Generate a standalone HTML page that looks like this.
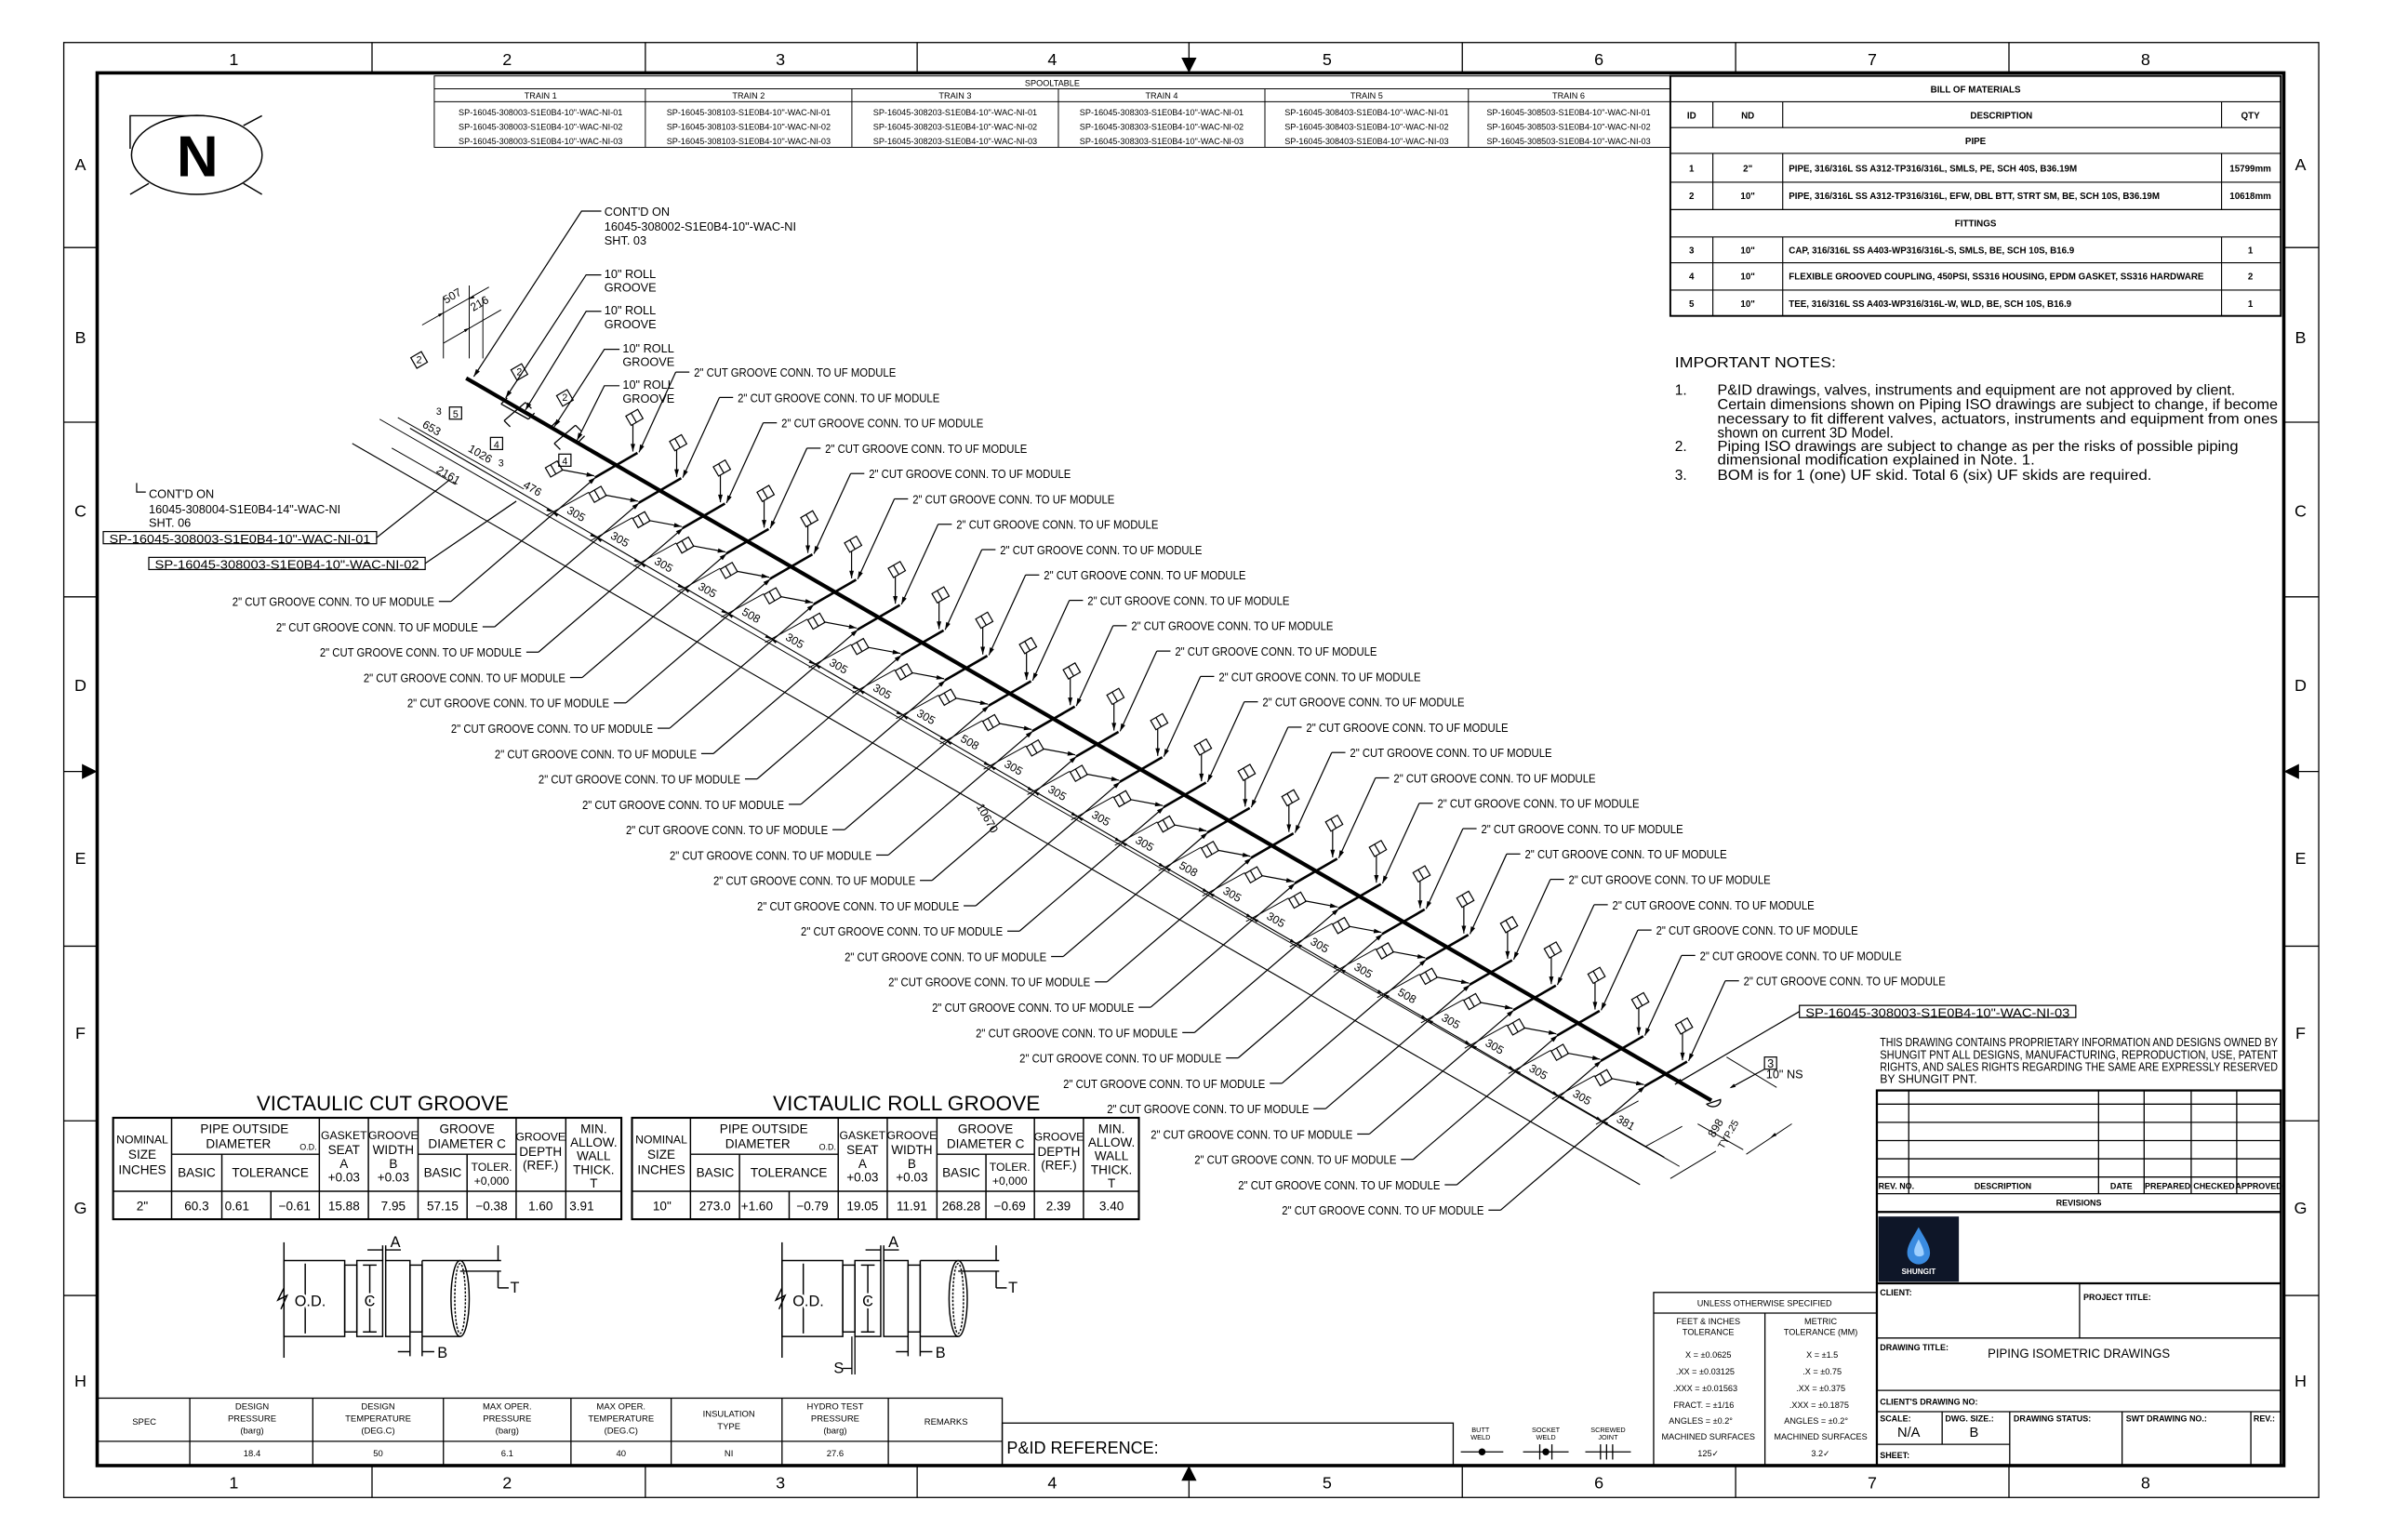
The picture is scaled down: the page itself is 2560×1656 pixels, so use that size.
<!DOCTYPE html>
<html><head><meta charset="utf-8"><style>
html,body{margin:0;padding:0;background:#fff}
svg{display:block}
text{font-family:"Liberation Sans",sans-serif;fill:#000}
.c{text-anchor:middle}
.e{text-anchor:end}
</style></head><body>
<svg xmlns="http://www.w3.org/2000/svg" width="2560" height="1656" viewBox="0 0 1568 1014" preserveAspectRatio="none">
<rect width="1568" height="1014" fill="#fff"/>
<g fill="none" stroke="#000">
<!-- frames -->
<rect x="42" y="28" width="1485" height="958" stroke-width="0.8"/>
<rect x="64" y="48" width="1440" height="917" stroke-width="2.2"/>
<g stroke-width="0.8">
<line x1="245" y1="28" x2="245" y2="48"/><line x1="425" y1="28" x2="425" y2="48"/><line x1="604" y1="28" x2="604" y2="48"/><line x1="963" y1="28" x2="963" y2="48"/><line x1="1143" y1="28" x2="1143" y2="48"/><line x1="1323" y1="28" x2="1323" y2="48"/>
<line x1="245" y1="965" x2="245" y2="986"/><line x1="425" y1="965" x2="425" y2="986"/><line x1="604" y1="965" x2="604" y2="986"/><line x1="963" y1="965" x2="963" y2="986"/><line x1="1143" y1="965" x2="1143" y2="986"/><line x1="1323" y1="965" x2="1323" y2="986"/>
<line x1="42" y1="163" x2="64" y2="163"/><line x1="42" y1="278" x2="64" y2="278"/><line x1="42" y1="393" x2="64" y2="393"/><line x1="42" y1="623" x2="64" y2="623"/><line x1="42" y1="738" x2="64" y2="738"/><line x1="42" y1="853" x2="64" y2="853"/>
<line x1="1504" y1="163" x2="1527" y2="163"/><line x1="1504" y1="278" x2="1527" y2="278"/><line x1="1504" y1="393" x2="1527" y2="393"/><line x1="1504" y1="623" x2="1527" y2="623"/><line x1="1504" y1="738" x2="1527" y2="738"/><line x1="1504" y1="853" x2="1527" y2="853"/>
<line x1="42" y1="508" x2="64" y2="508"/><line x1="1504" y1="508" x2="1527" y2="508"/>
<line x1="783" y1="28" x2="783" y2="38"/><line x1="783" y1="975" x2="783" y2="986"/>
</g>
</g>
<polygon points="778,38 788,38 783,48" fill="#000"/>
<polygon points="778,975 788,975 783,965" fill="#000"/>
<polygon points="54,503 54,513 64,508" fill="#000"/>
<polygon points="1514,503 1514,513 1504,508" fill="#000"/>
<g font-size="11" class="c">
<text x="154" y="43" class="c">1</text><text x="334" y="43" class="c">2</text><text x="514" y="43" class="c">3</text><text x="693" y="43" class="c">4</text><text x="874" y="43" class="c">5</text><text x="1053" y="43" class="c">6</text><text x="1233" y="43" class="c">7</text><text x="1413" y="43" class="c">8</text>
<text x="154" y="980" class="c">1</text><text x="334" y="980" class="c">2</text><text x="514" y="980" class="c">3</text><text x="693" y="980" class="c">4</text><text x="874" y="980" class="c">5</text><text x="1053" y="980" class="c">6</text><text x="1233" y="980" class="c">7</text><text x="1413" y="980" class="c">8</text>
<text x="53" y="112" class="c">A</text><text x="53" y="226" class="c">B</text><text x="53" y="340" class="c">C</text><text x="53" y="455" class="c">D</text><text x="53" y="569" class="c">E</text><text x="53" y="684" class="c">F</text><text x="53" y="799" class="c">G</text><text x="53" y="913" class="c">H</text>
<text x="1515" y="112" class="c">A</text><text x="1515" y="226" class="c">B</text><text x="1515" y="340" class="c">C</text><text x="1515" y="455" class="c">D</text><text x="1515" y="569" class="c">E</text><text x="1515" y="684" class="c">F</text><text x="1515" y="799" class="c">G</text><text x="1515" y="913" class="c">H</text>
</g>

<!-- North symbol -->
<g fill="none" stroke="#000" stroke-width="0.9">
<ellipse cx="129.6" cy="102" rx="43" ry="26"/>
<polyline points="134.7,76.2 85.7,76.2 85.7,98"/>
<line x1="160.3" y1="82.7" x2="172.5" y2="76.2"/><line x1="85.7" y1="128" x2="98" y2="120.8"/><line x1="160.3" y1="120.8" x2="172.5" y2="128"/>
</g>
<text x="130" y="116" class="c" font-size="38" font-weight="bold">N</text>

<!-- SPOOL TABLE -->
<g fill="none" stroke="#000" stroke-width="0.6">
<rect x="286" y="50" width="814" height="47"/>
<line x1="286" y1="58.5" x2="1100" y2="58.5"/><line x1="286" y1="67" x2="1100" y2="67"/>
<line x1="425" y1="58.5" x2="425" y2="97"/><line x1="561" y1="58.5" x2="561" y2="97"/><line x1="697" y1="58.5" x2="697" y2="97"/><line x1="833" y1="58.5" x2="833" y2="97"/><line x1="967" y1="58.5" x2="967" y2="97"/>
</g>
<g font-size="5.6">
<text x="693" y="56.5" class="c">SPOOLTABLE</text>
<text x="356" y="65" class="c">TRAIN 1</text><text x="493" y="65" class="c">TRAIN 2</text><text x="629" y="65" class="c">TRAIN 3</text><text x="765" y="65" class="c">TRAIN 4</text><text x="900" y="65" class="c">TRAIN 5</text><text x="1033" y="65" class="c">TRAIN 6</text>
<text x="356" y="76" class="c">SP-16045-308003-S1E0B4-10"-WAC-NI-01</text><text x="356" y="85.5" class="c">SP-16045-308003-S1E0B4-10"-WAC-NI-02</text><text x="356" y="95" class="c">SP-16045-308003-S1E0B4-10"-WAC-NI-03</text>
<text x="493" y="76" class="c">SP-16045-308103-S1E0B4-10"-WAC-NI-01</text><text x="493" y="85.5" class="c">SP-16045-308103-S1E0B4-10"-WAC-NI-02</text><text x="493" y="95" class="c">SP-16045-308103-S1E0B4-10"-WAC-NI-03</text>
<text x="629" y="76" class="c">SP-16045-308203-S1E0B4-10"-WAC-NI-01</text><text x="629" y="85.5" class="c">SP-16045-308203-S1E0B4-10"-WAC-NI-02</text><text x="629" y="95" class="c">SP-16045-308203-S1E0B4-10"-WAC-NI-03</text>
<text x="765" y="76" class="c">SP-16045-308303-S1E0B4-10"-WAC-NI-01</text><text x="765" y="85.5" class="c">SP-16045-308303-S1E0B4-10"-WAC-NI-02</text><text x="765" y="95" class="c">SP-16045-308303-S1E0B4-10"-WAC-NI-03</text>
<text x="900" y="76" class="c">SP-16045-308403-S1E0B4-10"-WAC-NI-01</text><text x="900" y="85.5" class="c">SP-16045-308403-S1E0B4-10"-WAC-NI-02</text><text x="900" y="95" class="c">SP-16045-308403-S1E0B4-10"-WAC-NI-03</text>
<text x="1033" y="76" class="c">SP-16045-308503-S1E0B4-10"-WAC-NI-01</text><text x="1033" y="85.5" class="c">SP-16045-308503-S1E0B4-10"-WAC-NI-02</text><text x="1033" y="95" class="c">SP-16045-308503-S1E0B4-10"-WAC-NI-03</text>
</g>

<!-- BOM -->
<g fill="none" stroke="#000" stroke-width="0.7">
<rect x="1100" y="50" width="402" height="158" stroke-width="1.2"/>
<line x1="1100" y1="67" x2="1502" y2="67"/><line x1="1100" y1="84" x2="1502" y2="84"/><line x1="1100" y1="101" x2="1502" y2="101"/><line x1="1100" y1="120" x2="1502" y2="120"/><line x1="1100" y1="138" x2="1502" y2="138"/><line x1="1100" y1="156" x2="1502" y2="156"/><line x1="1100" y1="173" x2="1502" y2="173"/><line x1="1100" y1="191" x2="1502" y2="191"/>
<line x1="1128" y1="67" x2="1128" y2="84"/><line x1="1174" y1="67" x2="1174" y2="84"/><line x1="1463" y1="67" x2="1463" y2="84"/>
<line x1="1128" y1="101" x2="1128" y2="138"/><line x1="1174" y1="101" x2="1174" y2="138"/><line x1="1463" y1="101" x2="1463" y2="138"/>
<line x1="1128" y1="156" x2="1128" y2="208"/><line x1="1174" y1="156" x2="1174" y2="208"/><line x1="1463" y1="156" x2="1463" y2="208"/>
</g>
<g font-size="6" font-weight="bold">
<text x="1301" y="61" class="c">BILL OF MATERIALS</text>
<text x="1114" y="78" class="c">ID</text><text x="1151" y="78" class="c">ND</text><text x="1318" y="78" class="c">DESCRIPTION</text><text x="1482" y="78" class="c">QTY</text>
<text x="1301" y="95" class="c">PIPE</text>
<text x="1114" y="113" class="c">1</text><text x="1151" y="113" class="c">2"</text><text x="1178" y="113">PIPE, 316/316L SS A312-TP316/316L, SMLS, PE, SCH 40S, B36.19M</text><text x="1482" y="113" class="c">15799mm</text>
<text x="1114" y="131" class="c">2</text><text x="1151" y="131" class="c">10"</text><text x="1178" y="131">PIPE, 316/316L SS A312-TP316/316L, EFW, DBL BTT, STRT SM, BE, SCH 10S, B36.19M</text><text x="1482" y="131" class="c">10618mm</text>
<text x="1301" y="149" class="c">FITTINGS</text>
<text x="1114" y="167" class="c">3</text><text x="1151" y="167" class="c">10"</text><text x="1178" y="167">CAP, 316/316L SS A403-WP316/316L-S, SMLS, BE, SCH 10S, B16.9</text><text x="1482" y="167" class="c">1</text>
<text x="1114" y="184" class="c">4</text><text x="1151" y="184" class="c">10"</text><text x="1178" y="184">FLEXIBLE GROOVED COUPLING, 450PSI, SS316 HOUSING, EPDM GASKET, SS316 HARDWARE</text><text x="1482" y="184" class="c">2</text>
<text x="1114" y="202" class="c">5</text><text x="1151" y="202" class="c">10"</text><text x="1178" y="202">TEE, 316/316L SS A403-WP316/316L-W, WLD, BE, SCH 10S, B16.9</text><text x="1482" y="202" class="c">1</text>
</g>

<!-- notes -->
<g font-size="9.5">
<text x="1103" y="242" textLength="106" lengthAdjust="spacingAndGlyphs">IMPORTANT NOTES:</text>
<text x="1103" y="260">1.</text><text x="1131" y="260" textLength="341" lengthAdjust="spacingAndGlyphs">P&amp;ID drawings, valves, instruments and equipment are not approved by client.</text>
<text x="1131" y="269.5" textLength="369" lengthAdjust="spacingAndGlyphs">Certain dimensions shown on Piping ISO drawings are subject to change, if become</text>
<text x="1131" y="279" textLength="369" lengthAdjust="spacingAndGlyphs">necessary to fit different valves, actuators, instruments and equipment from ones</text>
<text x="1131" y="288" textLength="116" lengthAdjust="spacingAndGlyphs">shown on current 3D Model.</text>
<text x="1103" y="297">2.</text><text x="1131" y="297" textLength="343" lengthAdjust="spacingAndGlyphs">Piping ISO drawings are subject to change as per the risks of possible piping</text>
<text x="1131" y="306" textLength="209" lengthAdjust="spacingAndGlyphs">dimensional modification explained in Note. 1.</text>
<text x="1103" y="316">3.</text><text x="1131" y="316" textLength="286" lengthAdjust="spacingAndGlyphs">BOM is for 1 (one) UF skid. Total 6 (six) UF skids are required.</text>
</g>
<g font-size="8">
<text x="1238" y="689" textLength="262" lengthAdjust="spacingAndGlyphs">THIS DRAWING CONTAINS PROPRIETARY INFORMATION AND DESIGNS OWNED BY</text>
<text x="1238" y="697" textLength="262" lengthAdjust="spacingAndGlyphs">SHUNGIT PNT ALL DESIGNS, MANUFACTURING, REPRODUCTION, USE, PATENT</text>
<text x="1238" y="705" textLength="262" lengthAdjust="spacingAndGlyphs">RIGHTS, AND SALES RIGHTS REGARDING THE SAME ARE EXPRESSLY RESERVED</text>
<text x="1238" y="713" textLength="64" lengthAdjust="spacingAndGlyphs">BY SHUNGIT PNT.</text>
</g>

<!-- Revisions / title block -->
<g fill="none" stroke="#000" stroke-width="0.8">
<rect x="1236" y="718" width="266" height="247" stroke-width="1.4"/>
<line x1="1236" y1="727" x2="1502" y2="727"/><line x1="1236" y1="739" x2="1502" y2="739"/><line x1="1236" y1="751" x2="1502" y2="751"/><line x1="1236" y1="763" x2="1502" y2="763"/><line x1="1236" y1="775" x2="1502" y2="775"/><line x1="1236" y1="786" x2="1502" y2="786"/><line x1="1236" y1="798" x2="1502" y2="798" stroke-width="1.4"/>
<line x1="1257" y1="718" x2="1257" y2="786"/><line x1="1382" y1="718" x2="1382" y2="786"/><line x1="1412" y1="718" x2="1412" y2="786"/><line x1="1443" y1="718" x2="1443" y2="786"/><line x1="1473" y1="718" x2="1473" y2="786"/>
<line x1="1236" y1="845" x2="1502" y2="845" stroke-width="1.4"/>
<line x1="1369.5" y1="845" x2="1369.5" y2="881"/>
<line x1="1236" y1="881" x2="1502" y2="881"/><line x1="1236" y1="915.5" x2="1502" y2="915.5"/><line x1="1236" y1="929.5" x2="1502" y2="929.5"/>
<line x1="1236" y1="951" x2="1323.5" y2="951"/>
<line x1="1279" y1="929.5" x2="1279" y2="951"/><line x1="1323.5" y1="929.5" x2="1323.5" y2="965"/><line x1="1397.5" y1="929.5" x2="1397.5" y2="965"/><line x1="1482.3" y1="929.5" x2="1482.3" y2="965"/>
</g>
<g font-size="5.5" font-weight="bold">
<text x="1237" y="783">REV. NO.</text><text x="1319" y="783" class="c">DESCRIPTION</text><text x="1397" y="783" class="c">DATE</text><text x="1427.5" y="783" class="c">PREPARED</text><text x="1458" y="783" class="c">CHECKED</text><text x="1487.5" y="783" class="c">APPROVED</text>
<text x="1369" y="794" class="c">REVISIONS</text>
<text x="1238" y="853">CLIENT:</text><text x="1372" y="856">PROJECT TITLE:</text>
<text x="1238" y="889">DRAWING TITLE:</text>
<text x="1238" y="925">CLIENT'S DRAWING NO:</text>
<text x="1238" y="936">SCALE:</text><text x="1281" y="936">DWG. SIZE.:</text><text x="1326" y="936">DRAWING STATUS:</text><text x="1400" y="936">SWT DRAWING NO.:</text><text x="1484" y="936">REV.:</text>
<text x="1238" y="960">SHEET:</text>
</g>
<text x="1369" y="894" class="c" font-size="8.5" textLength="120" lengthAdjust="spacingAndGlyphs">PIPING ISOMETRIC DRAWINGS</text>
<text x="1257" y="946" class="c" font-size="9">N/A</text><text x="1300" y="946" class="c" font-size="9">B</text>
<rect x="1237" y="801" width="53" height="43" fill="#0e1628"/>
<path d="M1263.5,808 C1259,816 1256,820 1256,825 A7.5,7.5 0 0 0 1271,825 C1271,820 1268,816 1263.5,808 Z" fill="#3a8be0"/>
<path d="M1263.5,816 C1261,821 1260,823 1261,826 A4,4 0 0 0 1267,826 C1267,823 1266,821 1263.5,816 Z" fill="#9fd0ff"/>
<text x="1263.5" y="839" class="c" font-size="5" font-weight="bold" fill="#fff" style="fill:#fff">SHUNGIT</text>

<!-- tolerance box -->
<g fill="none" stroke="#000" stroke-width="0.8">
<rect x="1089" y="851" width="147" height="114"/>
<line x1="1089" y1="864.6" x2="1236" y2="864.6"/><line x1="1162.3" y1="864.6" x2="1162.3" y2="965"/>
</g>
<g font-size="5.6">
<text x="1162" y="860" class="c">UNLESS OTHERWISE SPECIFIED</text>
<text x="1125" y="872" class="c">FEET &amp; INCHES</text><text x="1125" y="879" class="c">TOLERANCE</text>
<text x="1199" y="872" class="c">METRIC</text><text x="1199" y="879" class="c">TOLERANCE (MM)</text>
<text x="1125" y="894" class="c">X = ±0.0625</text><text x="1123" y="905" class="c">.XX = ±0.03125</text><text x="1123" y="916" class="c">.XXX = ±0.01563</text><text x="1122" y="927" class="c">FRACT. = ±1/16</text><text x="1120" y="937.5" class="c">ANGLES = ±0.2°</text><text x="1125" y="948" class="c">MACHINED SURFACES</text><text x="1125" y="959" class="c">125✓</text>
<text x="1200" y="894" class="c">X = ±1.5</text><text x="1200" y="905" class="c">.X = ±0.75</text><text x="1199" y="916" class="c">.XX = ±0.375</text><text x="1198" y="927" class="c">.XXX = ±0.1875</text><text x="1196" y="937.5" class="c">ANGLES = ±0.2°</text><text x="1199" y="948" class="c">MACHINED SURFACES</text><text x="1199" y="959" class="c">3.2✓</text>
</g>

<!-- weld symbols + P&ID -->
<g fill="none" stroke="#000" stroke-width="0.8">
<rect x="660" y="937" width="297" height="28"/>
<line x1="962" y1="956" x2="990" y2="956"/><line x1="1003" y1="956" x2="1033" y2="956"/><line x1="1044" y1="956" x2="1074" y2="956"/>
<line x1="1014" y1="951" x2="1014" y2="961"/><line x1="1022" y1="951" x2="1022" y2="961"/>
<line x1="1054" y1="951" x2="1054" y2="961"/><line x1="1058" y1="951" x2="1058" y2="961"/><line x1="1062" y1="951" x2="1062" y2="961"/>
</g>
<circle cx="976" cy="956" r="2.3" fill="#000"/><circle cx="1018" cy="956" r="2.3" fill="#000"/>
<g font-size="4.5">
<text x="975" y="943" class="c">BUTT</text><text x="975" y="948" class="c">WELD</text>
<text x="1018" y="943" class="c">SOCKET</text><text x="1018" y="948" class="c">WELD</text>
<text x="1059" y="943" class="c">SCREWED</text><text x="1059" y="948" class="c">JOINT</text>
</g>
<text x="663" y="957" font-size="11.5" textLength="100" lengthAdjust="spacingAndGlyphs">P&amp;ID REFERENCE:</text>

<!-- spec table -->
<g fill="none" stroke="#000" stroke-width="0.8">
<rect x="64" y="920.6" width="596" height="44.4"/>
<line x1="64" y1="949" x2="660" y2="949"/>
<line x1="125" y1="920.6" x2="125" y2="965"/><line x1="206" y1="920.6" x2="206" y2="965"/><line x1="292" y1="920.6" x2="292" y2="965"/><line x1="376" y1="920.6" x2="376" y2="965"/><line x1="442" y1="920.6" x2="442" y2="965"/><line x1="515" y1="920.6" x2="515" y2="965"/><line x1="585" y1="920.6" x2="585" y2="965"/>
</g>
<g font-size="5.8">
<text x="95" y="938" class="c">SPEC</text>
<text x="166" y="928" class="c">DESIGN</text><text x="166" y="936" class="c">PRESSURE</text><text x="166" y="944" class="c">(barg)</text>
<text x="249" y="928" class="c">DESIGN</text><text x="249" y="936" class="c">TEMPERATURE</text><text x="249" y="944" class="c">(DEG.C)</text>
<text x="334" y="928" class="c">MAX OPER.</text><text x="334" y="936" class="c">PRESSURE</text><text x="334" y="944" class="c">(barg)</text>
<text x="409" y="928" class="c">MAX OPER.</text><text x="409" y="936" class="c">TEMPERATURE</text><text x="409" y="944" class="c">(DEG.C)</text>
<text x="480" y="933" class="c">INSULATION</text><text x="480" y="941" class="c">TYPE</text>
<text x="550" y="928" class="c">HYDRO TEST</text><text x="550" y="936" class="c">PRESSURE</text><text x="550" y="944" class="c">(barg)</text>
<text x="623" y="938" class="c">REMARKS</text>
<text x="166" y="959" class="c">18.4</text><text x="249" y="959" class="c">50</text><text x="334" y="959" class="c">6.1</text><text x="409" y="959" class="c">40</text><text x="480" y="959" class="c">NI</text><text x="550" y="959" class="c">27.6</text>
</g>

<!-- Victaulic tables -->
<text x="252" y="731" class="c" font-size="13.5" textLength="166" lengthAdjust="spacingAndGlyphs">VICTAULIC CUT GROOVE</text>
<text x="597" y="731" class="c" font-size="13.5" textLength="176" lengthAdjust="spacingAndGlyphs">VICTAULIC ROLL GROOVE</text>
<g fill="none" stroke="#000" stroke-width="0.9">
<rect x="74.5" y="736" width="334.7" height="66.8" stroke-width="1.3"/>
<line x1="74.5" y1="784.4" x2="409.2" y2="784.4"/>
<line x1="113" y1="760" x2="210.3" y2="760"/><line x1="275.3" y1="760" x2="339.9" y2="760"/>
<line x1="113" y1="736" x2="113" y2="802.8"/><line x1="146.1" y1="760" x2="146.1" y2="802.8"/><line x1="178.4" y1="784.4" x2="178.4" y2="802.8"/><line x1="210.3" y1="736" x2="210.3" y2="802.8"/><line x1="242.6" y1="736" x2="242.6" y2="802.8"/><line x1="275.3" y1="736" x2="275.3" y2="802.8"/><line x1="307.6" y1="760" x2="307.6" y2="802.8"/><line x1="339.9" y1="736" x2="339.9" y2="802.8"/><line x1="372.6" y1="736" x2="372.6" y2="802.8"/>
<rect x="416.2" y="736" width="333.8" height="66.8" stroke-width="1.3"/>
<line x1="416.2" y1="784.4" x2="750" y2="784.4"/>
<line x1="454.7" y1="760" x2="552" y2="760"/><line x1="617" y1="760" x2="681.2" y2="760"/>
<line x1="454.7" y1="736" x2="454.7" y2="802.8"/><line x1="487" y1="760" x2="487" y2="802.8"/><line x1="519.7" y1="784.4" x2="519.7" y2="802.8"/><line x1="552" y1="736" x2="552" y2="802.8"/><line x1="584.3" y1="736" x2="584.3" y2="802.8"/><line x1="617" y1="736" x2="617" y2="802.8"/><line x1="649.3" y1="760" x2="649.3" y2="802.8"/><line x1="681.2" y1="736" x2="681.2" y2="802.8"/><line x1="713.5" y1="736" x2="713.5" y2="802.8"/>
</g>
<g font-size="8.3">
<text x="93.7" y="753" class="c" font-size="7.5">NOMINAL</text><text x="93.7" y="763" class="c">SIZE</text><text x="93.7" y="773" class="c">INCHES</text>
<text x="161" y="746" class="c">PIPE OUTSIDE</text><text x="157" y="756" class="c">DIAMETER</text><text x="203" y="757" class="c" font-size="5.5">O.D.</text>
<text x="129.5" y="775" class="c">BASIC</text><text x="178" y="775" class="c">TOLERANCE</text>
<text x="226.5" y="750" class="c" font-size="7.5">GASKET</text><text x="226.5" y="760" class="c">SEAT</text><text x="226.5" y="769" class="c">A</text><text x="226.5" y="778" class="c">+0.03</text>
<text x="259" y="750" class="c" font-size="7.5">GROOVE</text><text x="259" y="760" class="c">WIDTH</text><text x="259" y="769" class="c">B</text><text x="259" y="778" class="c">+0.03</text>
<text x="307.6" y="746" class="c">GROOVE</text><text x="307.6" y="756" class="c">DIAMETER C</text>
<text x="291.5" y="775" class="c">BASIC</text><text x="323.7" y="771" class="c" font-size="7.5">TOLER.</text><text x="323.7" y="780" class="c" font-size="7.5">+0,000</text>
<text x="356" y="751" class="c" font-size="7.5">GROOVE</text><text x="356" y="761" class="c">DEPTH</text><text x="356" y="770" class="c">(REF.)</text>
<text x="391" y="746" class="c">MIN.</text><text x="391" y="755" class="c">ALLOW.</text><text x="391" y="764" class="c">WALL</text><text x="391" y="773" class="c">THICK.</text><text x="391" y="782" class="c">T</text>
<text x="93.7" y="797" class="c">2"</text><text x="129.5" y="797" class="c">60.3</text><text x="148" y="797">0.61</text><text x="194" y="797" class="c">−0.61</text><text x="226.5" y="797" class="c">15.88</text><text x="259" y="797" class="c">7.95</text><text x="291.5" y="797" class="c">57.15</text><text x="323.7" y="797" class="c">−0.38</text><text x="356" y="797" class="c">1.60</text><text x="375" y="797">3.91</text>

<text x="435.5" y="753" class="c" font-size="7.5">NOMINAL</text><text x="435.5" y="763" class="c">SIZE</text><text x="435.5" y="773" class="c">INCHES</text>
<text x="503" y="746" class="c">PIPE OUTSIDE</text><text x="499" y="756" class="c">DIAMETER</text><text x="545" y="757" class="c" font-size="5.5">O.D.</text>
<text x="471" y="775" class="c">BASIC</text><text x="519.5" y="775" class="c">TOLERANCE</text>
<text x="568" y="750" class="c" font-size="7.5">GASKET</text><text x="568" y="760" class="c">SEAT</text><text x="568" y="769" class="c">A</text><text x="568" y="778" class="c">+0.03</text>
<text x="600.5" y="750" class="c" font-size="7.5">GROOVE</text><text x="600.5" y="760" class="c">WIDTH</text><text x="600.5" y="769" class="c">B</text><text x="600.5" y="778" class="c">+0.03</text>
<text x="649" y="746" class="c">GROOVE</text><text x="649" y="756" class="c">DIAMETER C</text>
<text x="633" y="775" class="c">BASIC</text><text x="665" y="771" class="c" font-size="7.5">TOLER.</text><text x="665" y="780" class="c" font-size="7.5">+0,000</text>
<text x="697.3" y="751" class="c" font-size="7.5">GROOVE</text><text x="697.3" y="761" class="c">DEPTH</text><text x="697.3" y="770" class="c">(REF.)</text>
<text x="732" y="746" class="c">MIN.</text><text x="732" y="755" class="c">ALLOW.</text><text x="732" y="764" class="c">WALL</text><text x="732" y="773" class="c">THICK.</text><text x="732" y="782" class="c">T</text>
<text x="436" y="797" class="c">10"</text><text x="470.8" y="797" class="c">273.0</text><text x="488" y="797">+1.60</text><text x="535" y="797" class="c">−0.79</text><text x="568" y="797" class="c">19.05</text><text x="600.5" y="797" class="c">11.91</text><text x="633" y="797" class="c">268.28</text><text x="665" y="797" class="c">−0.69</text><text x="697" y="797" class="c">2.39</text><text x="732" y="797" class="c">3.40</text>
</g>

<!-- groove sketches -->
<g id="gcut" fill="none" stroke="#000" stroke-width="0.9">
<line x1="187" y1="818" x2="187" y2="894"/>
<polyline points="187,848 183,856 189,853 185,862" fill="none"/>
<rect x="187" y="830" width="40" height="50"/>
<rect x="227" y="833" width="8" height="44"/>
<rect x="235" y="830" width="17" height="50"/>
<rect x="254" y="830" width="16" height="50"/>
<rect x="270" y="833" width="8" height="44"/>
<path d="M278,830 H303 M278,880 H303 M278,830 V880"/>
<ellipse cx="303" cy="855" rx="6" ry="25"/>
<ellipse cx="303" cy="855" rx="3.5" ry="23" stroke-dasharray="1.5 1"/>
<line x1="303" y1="830" x2="330" y2="830"/><line x1="303" y1="837" x2="330" y2="837"/>
<line x1="328" y1="820" x2="328" y2="830"/><line x1="328" y1="837" x2="328" y2="848"/><line x1="328" y1="848" x2="335" y2="848"/>
<line x1="201" y1="832" x2="201" y2="878"/>
<line x1="243.5" y1="833" x2="243.5" y2="877"/><line x1="239" y1="833" x2="248" y2="833"/><line x1="239" y1="877" x2="248" y2="877"/>
<line x1="252" y1="820" x2="252" y2="830"/><line x1="254" y1="820" x2="254" y2="830"/>
<line x1="242" y1="823" x2="252" y2="823"/><line x1="254" y1="823" x2="264" y2="823"/>
<line x1="270" y1="880" x2="270" y2="893"/><line x1="278" y1="880" x2="278" y2="893"/>
<line x1="262" y1="890" x2="270" y2="890"/><line x1="278" y1="890" x2="286" y2="890"/>
</g>
<g font-size="10">
<text x="194" y="860" fill="#fff" style="fill:#000;paint-order:stroke;stroke:#fff;stroke-width:3px">O.D.</text>
<text x="243.5" y="860" class="c" style="paint-order:stroke;stroke:#fff;stroke-width:3px">C</text>
<text x="257" y="821">A</text><text x="288" y="894">B</text><text x="336" y="851">T</text>
</g>
<use href="#gcut" x="328" y="0"/>
<g font-size="10">
<text x="522" y="860" style="paint-order:stroke;stroke:#fff;stroke-width:3px">O.D.</text>
<text x="571.5" y="860" class="c" style="paint-order:stroke;stroke:#fff;stroke-width:3px">C</text>
<text x="585" y="821">A</text><text x="616" y="894">B</text><text x="664" y="851">T</text>
<text x="549" y="904">S</text>
</g>
<g fill="none" stroke="#000" stroke-width="0.8"><line x1="561" y1="880" x2="561" y2="905"/><line x1="563" y1="880" x2="563" y2="905"/><line x1="555" y1="901" x2="561" y2="901"/></g>

<!-- ISO drawing geometry (lines only) -->
<g id="geo" fill="none" stroke="#000" stroke-width="0.75"></g>

<!-- upper callouts -->
<g font-size="7.8">
<text x="398" y="142">CONT'D ON</text><text x="398" y="152">16045-308002-S1E0B4-10"-WAC-NI</text><text x="398" y="161">SHT. 03</text>
<text x="398" y="183">10" ROLL</text><text x="398" y="192">GROOVE</text>
<text x="398" y="207">10" ROLL</text><text x="398" y="216">GROOVE</text>
<text x="410" y="232">10" ROLL</text><text x="410" y="241">GROOVE</text>
<text x="410" y="256">10" ROLL</text><text x="410" y="265">GROOVE</text>
<text x="98" y="328">CONT'D ON</text><text x="98" y="338">16045-308004-S1E0B4-14"-WAC-NI</text><text x="98" y="347">SHT. 06</text>
<text x="72" y="357.5" textLength="172" lengthAdjust="spacingAndGlyphs">SP-16045-308003-S1E0B4-10"-WAC-NI-01</text>
<text x="102" y="374.5" textLength="174" lengthAdjust="spacingAndGlyphs">SP-16045-308003-S1E0B4-10"-WAC-NI-02</text>
<text x="1189" y="669.5" textLength="174" lengthAdjust="spacingAndGlyphs">SP-16045-308003-S1E0B4-10"-WAC-NI-03</text>
<text x="1163" y="710">10" NS</text>
<text x="1166" y="703" class="c">3</text>
</g>
<g font-size="7.5" class="c">
<text transform="translate(299,197) rotate(-30)" class="c">507</text>
<text transform="translate(317,202) rotate(-30)" class="c">216</text>
<text transform="translate(283,284) rotate(30)" class="c">653</text>
<text transform="translate(315,301) rotate(30)" class="c">1026</text>
<text transform="translate(294,315) rotate(30)" class="c">2161</text>
<text transform="translate(349.4,323.9) rotate(30)" class="c">476</text>
<text transform="translate(648,540) rotate(60)" class="c">10670</text>
<text transform="translate(1132,744) rotate(-60)" class="c">898</text>
<text transform="translate(1140,748) rotate(-60)" class="c" font-size="6.5">TYP.25</text>
<text transform="translate(378.2,340.6) rotate(30)" class="c">305</text>
<text transform="translate(407.0,357.3) rotate(30)" class="c">305</text>
<text transform="translate(435.8,374.0) rotate(30)" class="c">305</text>
<text transform="translate(464.6,390.7) rotate(30)" class="c">305</text>
<text transform="translate(493.4,407.4) rotate(30)" class="c">508</text>
<text transform="translate(522.2,424.1) rotate(30)" class="c">305</text>
<text transform="translate(551.0,440.8) rotate(30)" class="c">305</text>
<text transform="translate(579.8,457.5) rotate(30)" class="c">305</text>
<text transform="translate(608.6,474.2) rotate(30)" class="c">305</text>
<text transform="translate(637.4,490.9) rotate(30)" class="c">508</text>
<text transform="translate(666.2,507.6) rotate(30)" class="c">305</text>
<text transform="translate(695.0,524.3) rotate(30)" class="c">305</text>
<text transform="translate(723.8,541.0) rotate(30)" class="c">305</text>
<text transform="translate(752.6,557.7) rotate(30)" class="c">305</text>
<text transform="translate(781.4,574.4) rotate(30)" class="c">508</text>
<text transform="translate(810.2,591.1) rotate(30)" class="c">305</text>
<text transform="translate(839.0,607.8) rotate(30)" class="c">305</text>
<text transform="translate(867.8,624.5) rotate(30)" class="c">305</text>
<text transform="translate(896.6,641.2) rotate(30)" class="c">305</text>
<text transform="translate(925.4,657.9) rotate(30)" class="c">508</text>
<text transform="translate(954.2,674.6) rotate(30)" class="c">305</text>
<text transform="translate(983.0,691.3) rotate(30)" class="c">305</text>
<text transform="translate(1011.8,708.0) rotate(30)" class="c">305</text>
<text transform="translate(1040.6,724.7) rotate(30)" class="c">305</text>
<text transform="translate(1069.4,741.4) rotate(30)" class="c">381</text>
</g>
<g font-size="6.5" class="c">
<text x="276" y="239" class="c">2</text><text x="342" y="247" class="c">2</text><text x="372" y="264" class="c">2</text>
<text x="300" y="275" class="c">5</text><text x="327" y="295" class="c">4</text><text x="372" y="306" class="c">4</text>
<text x="289" y="273" class="c">3</text><text x="330" y="307" class="c">3</text>
</g>

<!-- upper labels -->
<g font-size="8">
<text x="457.0" y="248.0" textLength="133" lengthAdjust="spacingAndGlyphs">2" CUT GROOVE CONN. TO UF MODULE</text>
<text x="485.8" y="264.7" textLength="133" lengthAdjust="spacingAndGlyphs">2" CUT GROOVE CONN. TO UF MODULE</text>
<text x="514.6" y="281.4" textLength="133" lengthAdjust="spacingAndGlyphs">2" CUT GROOVE CONN. TO UF MODULE</text>
<text x="543.4" y="298.1" textLength="133" lengthAdjust="spacingAndGlyphs">2" CUT GROOVE CONN. TO UF MODULE</text>
<text x="572.2" y="314.8" textLength="133" lengthAdjust="spacingAndGlyphs">2" CUT GROOVE CONN. TO UF MODULE</text>
<text x="601.0" y="331.5" textLength="133" lengthAdjust="spacingAndGlyphs">2" CUT GROOVE CONN. TO UF MODULE</text>
<text x="629.8" y="348.2" textLength="133" lengthAdjust="spacingAndGlyphs">2" CUT GROOVE CONN. TO UF MODULE</text>
<text x="658.6" y="364.9" textLength="133" lengthAdjust="spacingAndGlyphs">2" CUT GROOVE CONN. TO UF MODULE</text>
<text x="687.4" y="381.6" textLength="133" lengthAdjust="spacingAndGlyphs">2" CUT GROOVE CONN. TO UF MODULE</text>
<text x="716.2" y="398.3" textLength="133" lengthAdjust="spacingAndGlyphs">2" CUT GROOVE CONN. TO UF MODULE</text>
<text x="745.0" y="415.0" textLength="133" lengthAdjust="spacingAndGlyphs">2" CUT GROOVE CONN. TO UF MODULE</text>
<text x="773.8" y="431.7" textLength="133" lengthAdjust="spacingAndGlyphs">2" CUT GROOVE CONN. TO UF MODULE</text>
<text x="802.6" y="448.4" textLength="133" lengthAdjust="spacingAndGlyphs">2" CUT GROOVE CONN. TO UF MODULE</text>
<text x="831.4" y="465.1" textLength="133" lengthAdjust="spacingAndGlyphs">2" CUT GROOVE CONN. TO UF MODULE</text>
<text x="860.2" y="481.8" textLength="133" lengthAdjust="spacingAndGlyphs">2" CUT GROOVE CONN. TO UF MODULE</text>
<text x="889.0" y="498.5" textLength="133" lengthAdjust="spacingAndGlyphs">2" CUT GROOVE CONN. TO UF MODULE</text>
<text x="917.8" y="515.2" textLength="133" lengthAdjust="spacingAndGlyphs">2" CUT GROOVE CONN. TO UF MODULE</text>
<text x="946.6" y="531.9" textLength="133" lengthAdjust="spacingAndGlyphs">2" CUT GROOVE CONN. TO UF MODULE</text>
<text x="975.4" y="548.6" textLength="133" lengthAdjust="spacingAndGlyphs">2" CUT GROOVE CONN. TO UF MODULE</text>
<text x="1004.2" y="565.3" textLength="133" lengthAdjust="spacingAndGlyphs">2" CUT GROOVE CONN. TO UF MODULE</text>
<text x="1033.0" y="582.0" textLength="133" lengthAdjust="spacingAndGlyphs">2" CUT GROOVE CONN. TO UF MODULE</text>
<text x="1061.8" y="598.7" textLength="133" lengthAdjust="spacingAndGlyphs">2" CUT GROOVE CONN. TO UF MODULE</text>
<text x="1090.6" y="615.4" textLength="133" lengthAdjust="spacingAndGlyphs">2" CUT GROOVE CONN. TO UF MODULE</text>
<text x="1119.4" y="632.1" textLength="133" lengthAdjust="spacingAndGlyphs">2" CUT GROOVE CONN. TO UF MODULE</text>
<text x="1148.2" y="648.8" textLength="133" lengthAdjust="spacingAndGlyphs">2" CUT GROOVE CONN. TO UF MODULE</text>
</g>
<!-- lower labels -->
<g font-size="8">
<text x="153.0" y="399.0" textLength="133" lengthAdjust="spacingAndGlyphs">2" CUT GROOVE CONN. TO UF MODULE</text>
<text x="181.8" y="415.7" textLength="133" lengthAdjust="spacingAndGlyphs">2" CUT GROOVE CONN. TO UF MODULE</text>
<text x="210.6" y="432.4" textLength="133" lengthAdjust="spacingAndGlyphs">2" CUT GROOVE CONN. TO UF MODULE</text>
<text x="239.4" y="449.1" textLength="133" lengthAdjust="spacingAndGlyphs">2" CUT GROOVE CONN. TO UF MODULE</text>
<text x="268.2" y="465.8" textLength="133" lengthAdjust="spacingAndGlyphs">2" CUT GROOVE CONN. TO UF MODULE</text>
<text x="297.0" y="482.5" textLength="133" lengthAdjust="spacingAndGlyphs">2" CUT GROOVE CONN. TO UF MODULE</text>
<text x="325.8" y="499.2" textLength="133" lengthAdjust="spacingAndGlyphs">2" CUT GROOVE CONN. TO UF MODULE</text>
<text x="354.6" y="515.9" textLength="133" lengthAdjust="spacingAndGlyphs">2" CUT GROOVE CONN. TO UF MODULE</text>
<text x="383.4" y="532.6" textLength="133" lengthAdjust="spacingAndGlyphs">2" CUT GROOVE CONN. TO UF MODULE</text>
<text x="412.2" y="549.3" textLength="133" lengthAdjust="spacingAndGlyphs">2" CUT GROOVE CONN. TO UF MODULE</text>
<text x="441.0" y="566.0" textLength="133" lengthAdjust="spacingAndGlyphs">2" CUT GROOVE CONN. TO UF MODULE</text>
<text x="469.8" y="582.7" textLength="133" lengthAdjust="spacingAndGlyphs">2" CUT GROOVE CONN. TO UF MODULE</text>
<text x="498.6" y="599.4" textLength="133" lengthAdjust="spacingAndGlyphs">2" CUT GROOVE CONN. TO UF MODULE</text>
<text x="527.4" y="616.1" textLength="133" lengthAdjust="spacingAndGlyphs">2" CUT GROOVE CONN. TO UF MODULE</text>
<text x="556.2" y="632.8" textLength="133" lengthAdjust="spacingAndGlyphs">2" CUT GROOVE CONN. TO UF MODULE</text>
<text x="585.0" y="649.5" textLength="133" lengthAdjust="spacingAndGlyphs">2" CUT GROOVE CONN. TO UF MODULE</text>
<text x="613.8" y="666.2" textLength="133" lengthAdjust="spacingAndGlyphs">2" CUT GROOVE CONN. TO UF MODULE</text>
<text x="642.6" y="682.9" textLength="133" lengthAdjust="spacingAndGlyphs">2" CUT GROOVE CONN. TO UF MODULE</text>
<text x="671.4" y="699.6" textLength="133" lengthAdjust="spacingAndGlyphs">2" CUT GROOVE CONN. TO UF MODULE</text>
<text x="700.2" y="716.3" textLength="133" lengthAdjust="spacingAndGlyphs">2" CUT GROOVE CONN. TO UF MODULE</text>
<text x="729.0" y="733.0" textLength="133" lengthAdjust="spacingAndGlyphs">2" CUT GROOVE CONN. TO UF MODULE</text>
<text x="757.8" y="749.7" textLength="133" lengthAdjust="spacingAndGlyphs">2" CUT GROOVE CONN. TO UF MODULE</text>
<text x="786.6" y="766.4" textLength="133" lengthAdjust="spacingAndGlyphs">2" CUT GROOVE CONN. TO UF MODULE</text>
<text x="815.4" y="783.1" textLength="133" lengthAdjust="spacingAndGlyphs">2" CUT GROOVE CONN. TO UF MODULE</text>
<text x="844.2" y="799.8" textLength="133" lengthAdjust="spacingAndGlyphs">2" CUT GROOVE CONN. TO UF MODULE</text>
</g>
</svg>
<script>
(function(){
var S='http://www.w3.org/2000/svg',g=document.getElementById('geo');
function el(n,a){var e=document.createElementNS(S,n);for(var k in a)e.setAttribute(k,a[k]);g.appendChild(e);return e;}
function ln(x1,y1,x2,y2,w){el('line',{x1:x1,y1:y1,x2:x2,y2:y2,'stroke-width':w||0.75});}
function pl(p,w){el('polyline',{points:p,'stroke-width':w||0.75});}
function ah(x1,y1,x2,y2,L,W){L=L||5;W=W||1.5;var dx=x2-x1,dy=y2-y1,d=Math.hypot(dx,dy),ux=dx/d,uy=dy/d,bx=x2-ux*L,by=y2-uy*L;
 el('polygon',{points:x2+','+y2+' '+(bx-uy*W)+','+(by+ux*W)+' '+(bx+uy*W)+','+(by-ux*W),fill:'#000',stroke:'none'});}
function arr(x1,y1,x2,y2){ln(x1,y1,x2,y2);ah(x1,y1,x2,y2);}
function box(cx,cy,t){el('rect',{x:cx-4.5,y:cy-3.5,width:9,height:7,transform:'rotate(-30 '+cx+' '+cy+')'});
 el('line',{x1:cx-0.5,y1:cy-3.5,x2:cx-0.5,y2:cy+3.5,transform:'rotate(-30 '+cx+' '+cy+')'});}
function sbox(cx,cy){el('rect',{x:cx-4,y:cy-4,width:8,height:8,transform:'rotate(-30 '+cx+' '+cy+')'});}
// main pipe
ln(307,249,1127,724.6,2.6);
// cap
el('path',{d:'M1124,727 a5,4 0 0 0 9,-3 z','stroke-width':0.8});
for(var i=0;i<25;i++){
 var cx=405.8+28.8*i, cy=306.3+16.7*i;
 ln(cx-14,cy+8.1,cx+14,cy-8.1,1.6);
 var ux=cx+13,uy=cy-7.5,lx=cx-13,ly=cy+7.5;
 // upper leader
 var tx=457+28.8*i, ty=245+16.7*i;
 ln(tx-3,ty,tx-12,ty); arr(tx-12,ty,ux+2,uy-1);
 // upper flag
 box(ux-1,uy-24); arr(ux-2,uy-19.5,ux-2,uy-1.5);
 // lower flag
 box(lx-28,ly-5); arr(lx-23,ly-4.5,lx-1.5,ly-0.5);
 // lower leader
 var rx=289+28.8*i, ry=396+16.7*i;
 ln(rx,ry,rx+8,ry); arr(rx+8,ry,lx-0.5,ly+0.5);
 // dim extension + tick
 var dx=cx-42, dy=cy+31;
 ln(dx-4,dy+2.2,dx+24,dy-13.2,0.6);
 ah(dx-10,dy-5.8,dx,dy,4,1.1); ah(dx+10,dy+5.8,dx,dy,4,1.1);
}
// dim line
ln(270,282,1096,762,0.7);
ln(1083.8,754.8,1107.8,741.6,0.6);
// overall long dim lines
ln(232,292,1080,780,0.7);
ln(250,276,1106,768,0.6);
// leaders of cut groove first-label 0 already; couplings
function coup(x,y){ln(x-9,y-5,x+9,y+5,0.8);ln(x-7,y+6,x+7,y-6,0.8);ln(x-9,y-5,x-5,y-9,0.8);ln(x+9,y+5,x+13,y+1,0.8);ln(x-7,y+6,x-3,y+10,0.8);ln(x+7,y-6,x+11,y-2,0.8);}
coup(339,271);coup(372,286);
// roll groove callout leaders
pl('396,139 383,139 312,248');ah(383,139,312,248);
pl('396,181 386,181 333,262');ah(386,181,333,262);
pl('396,205 386,205 346,270');ah(386,205,346,270);
pl('408,230 398,230 365,281');ah(398,230,365,281);
pl('408,254 398,254 380,290');ah(398,254,380,290);
// small callout boxes
sbox(276,237);sbox(342,245);sbox(372,262);
el('rect',{x:296,y:268,width:8,height:8});el('rect',{x:323,y:288,width:8,height:8});el('rect',{x:368,y:299,width:8,height:8});
// top-left dims
ln(292,196,292,236,0.6);ln(309,188,309,236,0.6);ln(318,196,318,236,0.6);
ln(278,214,322,189,0.6);ah(284,210.5,292,206,3.5,1);ah(318,192,309,197,3.5,1);
ln(292,226,330,204,0.6);ah(300,221.4,309,216,3.5,1);
// first-region dims
ln(262,275,345,322,0.6);ln(258,295,300,319,0.6);
// left boxes + leaders
el('rect',{x:68,y:350,width:180,height:8});el('rect',{x:98,y:367,width:182,height:8});
ln(248,354,296,316);ln(280,371,340,330);
pl('96,324 90,324 90,318');
// right box
el('rect',{x:1185,y:662,width:182,height:8});
arr(1185,666,1103,714);
el('rect',{x:1162,y:696,width:8,height:8});
ln(1162,704,1140,716);ah(1150,710.3,1139,716.6,4,1.2);
// end dims 898
ln(1118,740,1148,757,0.6);ln(1137,696,1170,716,0.6);
ln(1150,760,1180,740,0.6);ah(1180,740,1166,749,4,1.1);
ln(1100,776,1130,758,0.6);
// roll sketch dents
})();
</script>
</body></html>
